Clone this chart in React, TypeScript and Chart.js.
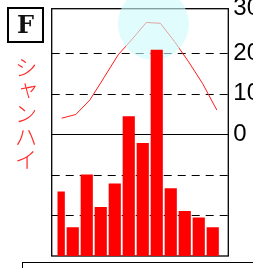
import React, { useEffect, useRef } from 'react';
import Chart from 'chart.js/auto';

// ---- data ----
const months = ['1', '2', '3', '4', '5', '6', '7', '8', '9', '10', '11', '12'];
const precipitation = [79, 35, 100, 60, 89, 172, 139, 254, 83, 55, 47, 35]; // mm
const temperature = [4.0, 4.9, 8.5, 14.0, 19.6, 23.5, 27.6, 27.4, 22.9, 17.9, 12.5, 6.0]; // °C
const tempTicks = [-30, -20, -10, 0, 10, 20, 30];
const tempTickLabels = ['', '', '', '0', '10', '20', '30'];
const highlightMonths = [6, 7]; // Jul, Aug (peak temperature)
const panelLetter = 'F';
const cityName = 'シャンハイ';

const CW = 300;
const CH = 268;
// frame extends beyond the plotting area of the bars
const FRAME_PAD_L = 5.8;
const FRAME_PAD_R = 2.8;

export default function App() {
  const ref = useRef<HTMLCanvasElement | null>(null);

  useEffect(() => {
    const canvas = ref.current;
    if (!canvas) return;

    const framePlugin = {
      id: 'frame',
      beforeDatasetsDraw(chart: any) {
        const { ctx, chartArea } = chart;
        const y2 = chart.scales.y2;
        const L = chartArea.left - FRAME_PAD_L;
        const R = chartArea.right + FRAME_PAD_R;
        ctx.save();
        ctx.strokeStyle = '#000';
        ctx.lineWidth = 1;
        y2.ticks.forEach((t: any, i: number) => {
          if (i === 0 || i === y2.ticks.length - 1) return;
          const y = Math.round(y2.getPixelForValue(t.value)) + 0.5;
          ctx.setLineDash(t.value === 0 ? [] : [8, 6]);
          ctx.beginPath();
          ctx.moveTo(L, y);
          ctx.lineTo(R, y);
          ctx.stroke();
        });
        ctx.setLineDash([]);
        ctx.lineWidth = 1.3;
        ctx.strokeRect(L, chartArea.top, R - L, chartArea.bottom - chartArea.top);
        ctx.restore();
      },
      afterDatasetDraw(chart: any, args: any) {
        if (args.index !== 1) return;
        const { ctx } = chart;
        const xl = chart.scales.xl;
        const y2 = chart.scales.y2;
        const cx = xl.getPixelForValue((highlightMonths[0] + highlightMonths[1]) / 2);
        const peak = Math.max(...highlightMonths.map((m) => temperature[m]));
        const cy = y2.getPixelForValue(peak) + 1.5;
        ctx.save();
        ctx.fillStyle = 'rgba(206, 250, 250, 0.62)';
        ctx.beginPath();
        ctx.ellipse(cx, cy, 35.5, 36, 0, 0, Math.PI * 2);
        ctx.fill();
        ctx.restore();
      },
    };

    const chart = new Chart(canvas, {
      type: 'bar',
      data: {
        labels: months,
        datasets: [
          {
            type: 'bar',
            data: precipitation,
            backgroundColor: '#ff0000',
            borderWidth: 0,
            barThickness: 11.5,
            xAxisID: 'x',
            yAxisID: 'y',
            order: 1,
          },
          {
            type: 'line',
            data: temperature.map((v, i) => ({ x: i, y: v })) as any,
            borderColor: '#ff1a1a',
            borderWidth: 1,
            pointRadius: 0,
            tension: 0,
            fill: false,
            xAxisID: 'xl',
            yAxisID: 'y2',
            order: 2,
          } as any,
        ],
      },
      options: {
        responsive: false,
        animation: false,
        devicePixelRatio: 1,
        layout: { padding: { left: 51.7 + FRAME_PAD_L, top: 8.7, bottom: 12, right: 0 } },
        plugins: {
          legend: { display: false },
          tooltip: { enabled: false },
        },
        scales: {
          x: { type: 'category', offset: true, display: false },
          xl: { type: 'linear', min: -0.298, max: 11.617, offset: false, display: false, grid: { offset: false } },
          y: { type: 'linear', min: 0, max: 305, display: false },
          y2: {
            type: 'linear',
            position: 'right',
            min: -30,
            max: 31,
            afterBuildTicks: (scale: any) => {
              scale.ticks = tempTicks.map((v, i) => ({
                value: i === tempTicks.length - 1 ? scale.max : v,
              }));
            },
            afterFit: (scale: any) => {
              scale.width = CW - (228.3 - FRAME_PAD_R);
              scale.paddingTop = 0;
              scale.paddingBottom = 0;
            },
            grid: { display: false, drawTicks: false },
            border: { display: false },
            ticks: {
              autoSkip: false,
              padding: 5 + FRAME_PAD_R,
              color: '#000',
              font: { family: '"Liberation Sans", Arial, sans-serif', size: 24 },
              callback: (_v: any, i: number) => tempTickLabels[i],
            },
          } as any,
        },
      },
      plugins: [framePlugin],
    });

    return () => chart.destroy();
  }, []);

  return (
    <div style={{ position: 'fixed', left: 0, top: 0, width: 253, height: 268, overflow: 'hidden', background: '#fff' }}>
      <canvas ref={ref} width={CW} height={CH} style={{ position: 'absolute', left: 0, top: 0, width: CW, height: CH }} />
      <div
        style={{
          position: 'absolute',
          left: 7,
          top: 7,
          width: 33,
          height: 32,
          border: '2px solid #000',
          display: 'flex',
          alignItems: 'center',
          justifyContent: 'center',
          fontFamily: '"DejaVu Serif", serif',
          fontWeight: 700,
          fontSize: 24,
          lineHeight: 1,
          color: '#111',
        }}
      >
        {panelLetter}
      </div>
      <div
        style={{
          position: 'absolute',
          left: 14,
          top: 56,
          writingMode: 'vertical-rl',
          fontFamily: '"Noto Sans CJK JP", sans-serif',
          fontWeight: 300,
          fontSize: 23,
          lineHeight: 1,
          color: '#ff2a2a',
        }}
      >
        {cityName}
      </div>
      <div
        style={{
          position: 'absolute',
          left: 22,
          top: 261.5,
          width: 260,
          height: 20,
          borderTop: '1.4px solid #000',
          borderLeft: '1.4px solid #000',
        }}
      />
    </div>
  );
}
